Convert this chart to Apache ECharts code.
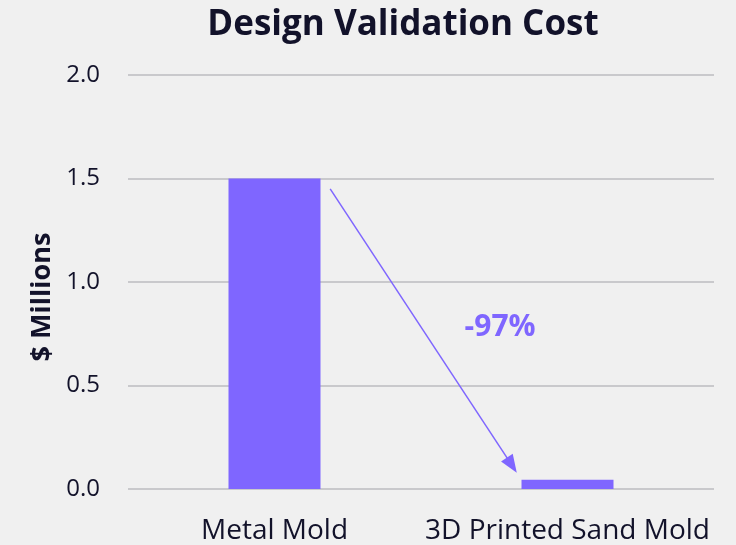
<!DOCTYPE html>
<html><head><meta charset="utf-8">
<script src="https://cdn.jsdelivr.net/npm/echarts@6/dist/echarts.min.js"></script>
<style>html,body{margin:0;padding:0;background:#f0f0f0;}#c{width:736px;height:545px;}</style>
</head><body><div id="c"></div>
<script>
const categories = ['Metal Mold', '3D Printed Sand Mold'];
const costValues = [1.5, 0.045];
const yTicks = [0, 0.5, 1.0, 1.5, 2.0];
const changeLabel = '-97%';
const arrowStart = [0.19, 1.45];
const arrowEnd = [0.81, 0.115];
const labelPos = [0.77, 0.78];

const purple = '#7F66FF';
const dark = '#12122a';
const font = 'Open Sans';
const chart = echarts.init(document.getElementById('c'));
chart.setOption({
  backgroundColor: '#f0f0f0',
  animation: false,
  title: {
    text: 'Design Validation Cost', left: 398, top: 3, textAlign: 'center',
    textStyle: { fontFamily: font, fontWeight: 'bold', fontSize: 35, color: dark }
  },
  grid: { left: 128, right: 22, top: 75, bottom: 56 },
  xAxis: [{
    type: 'category', data: categories,
    axisLine: { show: false }, axisTick: { show: false },
    axisLabel: { interval: 0, fontFamily: font, fontSize: 28, color: dark, margin: 28 }
  }, {
    type: 'value', min: -0.5, max: 1.5, show: false
  }],
  yAxis: {
    type: 'value', min: 0, max: 2, interval: 0.5,
    name: '$ Millions', nameLocation: 'middle', nameGap: 72,
    nameTextStyle: { fontFamily: font, fontWeight: 'bold', fontSize: 27, color: dark, padding: [0, 30, 0, 0] },
    axisLine: { show: false }, axisTick: { show: false },
    axisLabel: { fontFamily: font, fontSize: 24, color: dark, margin: 28,
      formatter: v => yTicks.includes(v) ? v.toFixed(1) : '' },
    splitLine: { lineStyle: { color: '#c9c9cc', width: 2 } }
  },
  series: [{
    type: 'bar', data: costValues, barWidth: 92,
    itemStyle: { color: purple }
  }, {
    type: 'line', xAxisIndex: 1, data: [], silent: true,
    markLine: {
      silent: true, symbol: ['none', 'triangle'], symbolSize: [14, 18],
      lineStyle: { color: purple, width: 1.5, type: 'solid' },
      label: { show: false },
      data: [[{ coord: arrowStart }, { coord: arrowEnd }]]
    },
    markPoint: {
      symbol: 'circle', symbolSize: 0,
      label: { show: true, formatter: changeLabel, fontFamily: font, fontWeight: 'bold', fontSize: 30, color: purple },
      data: [{ coord: labelPos }]
    }
  }]
});
</script></body></html>
